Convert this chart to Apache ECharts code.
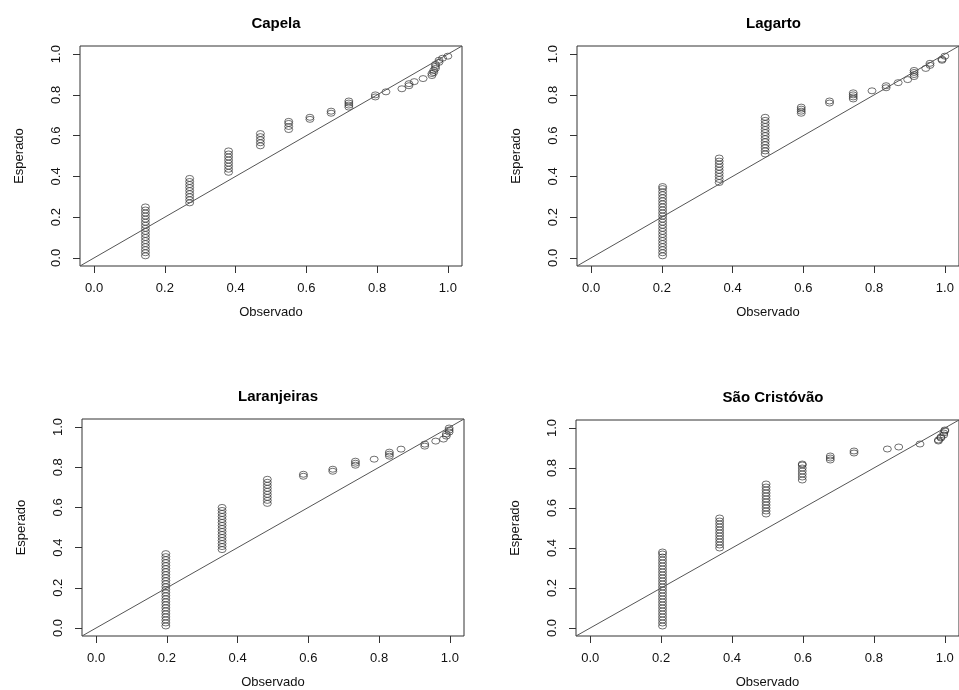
<html>
<head>
<meta charset="utf-8">
<title>Observado x Esperado</title>
<script src="https://cdn.jsdelivr.net/npm/echarts@6/dist/echarts.min.js"></script>
<style>
body{margin:0;background:#fff;overflow:hidden;}
#main{width:959px;height:690px;}
</style>
</head>
<body>
<div id="main"></div>
<script type="text/javascript">
  var myChart = echarts.init(document.getElementById('main'));

  var panelNames = ['Capela', 'Lagarto', 'Laranjeiras', 'São Cristóvão'];
  var tickValues = [0, 0.2, 0.4, 0.6, 0.8, 1.0];
  var axisLimits = [-0.04, 1.04];

  // cada coluna: valor observado (x) e os esperados (y) empilhados
  var capelaX = [0.145, 0.27, 0.38, 0.47, 0.55, 0.61, 0.67, 0.72, 0.795, 0.825, 0.87, 0.89, 0.905, 0.93, 0.955, 0.96, 0.965, 0.975, 0.985, 1.0];
  var capelaY = [
    [0.01, 0.025, 0.04, 0.055, 0.07, 0.085, 0.10, 0.115, 0.13, 0.145, 0.16, 0.175, 0.19, 0.205, 0.22, 0.235, 0.25],
    [0.27, 0.285, 0.30, 0.315, 0.33, 0.345, 0.36, 0.375, 0.39],
    [0.42, 0.435, 0.45, 0.465, 0.48, 0.495, 0.51, 0.525],
    [0.55, 0.565, 0.58, 0.595, 0.61],
    [0.63, 0.645, 0.66, 0.67],
    [0.68, 0.69],
    [0.71, 0.72],
    [0.74, 0.75, 0.76, 0.77],
    [0.79, 0.80],
    [0.815],
    [0.83],
    [0.845, 0.855],
    [0.865],
    [0.88],
    [0.895, 0.905],
    [0.91, 0.92],
    [0.93, 0.94, 0.95],
    [0.96, 0.97],
    [0.98],
    [0.99]
  ];

  var lagartoX = [0.202, 0.362, 0.492, 0.594, 0.674, 0.741, 0.794, 0.834, 0.868, 0.895, 0.913, 0.946, 0.958, 0.992, 1.0];
  var lagartoY = [
    [0.01, 0.025, 0.04, 0.055, 0.07, 0.085, 0.10, 0.115, 0.13, 0.145, 0.16, 0.175, 0.19, 0.205, 0.22, 0.235, 0.25, 0.265, 0.28, 0.295, 0.31, 0.325, 0.34, 0.35],
    [0.37, 0.385, 0.40, 0.415, 0.43, 0.445, 0.46, 0.475, 0.49],
    [0.51, 0.525, 0.54, 0.555, 0.57, 0.585, 0.60, 0.615, 0.63, 0.645, 0.66, 0.675, 0.69],
    [0.71, 0.72, 0.73, 0.74],
    [0.76, 0.77],
    [0.78, 0.79, 0.80, 0.81],
    [0.82],
    [0.835, 0.845],
    [0.86],
    [0.875],
    [0.89, 0.90, 0.91, 0.92],
    [0.93],
    [0.945, 0.955],
    [0.97, 0.975],
    [0.99]
  ];

  var laranjeirasX = [0.197, 0.356, 0.484, 0.586, 0.669, 0.733, 0.786, 0.829, 0.862, 0.929, 0.96, 0.982, 0.99, 0.998];
  var laranjeirasY = [
    [0.01, 0.025, 0.04, 0.055, 0.07, 0.085, 0.10, 0.115, 0.13, 0.145, 0.16, 0.175, 0.19, 0.205, 0.22, 0.235, 0.25, 0.265, 0.28, 0.295, 0.31, 0.325, 0.34, 0.355, 0.37],
    [0.39, 0.405, 0.42, 0.435, 0.45, 0.465, 0.48, 0.495, 0.51, 0.525, 0.54, 0.555, 0.57, 0.585, 0.60],
    [0.62, 0.635, 0.65, 0.665, 0.68, 0.695, 0.71, 0.725, 0.74],
    [0.755, 0.765],
    [0.78, 0.79],
    [0.81, 0.82, 0.83],
    [0.84],
    [0.855, 0.865, 0.875],
    [0.89],
    [0.905, 0.915],
    [0.93],
    [0.94],
    [0.955, 0.965],
    [0.975, 0.985, 0.995]
  ];

  var saoCristovaoX = [0.204, 0.365, 0.496, 0.598, 0.677, 0.744, 0.838, 0.87, 0.93, 0.982, 0.989, 0.997, 1.0];
  var saoCristovaoY = [
    [0.01, 0.025, 0.04, 0.055, 0.07, 0.085, 0.10, 0.115, 0.13, 0.145, 0.16, 0.175, 0.19, 0.205, 0.22, 0.235, 0.25, 0.265, 0.28, 0.295, 0.31, 0.325, 0.34, 0.355, 0.37, 0.38],
    [0.40, 0.415, 0.43, 0.445, 0.46, 0.475, 0.49, 0.505, 0.52, 0.535, 0.55],
    [0.57, 0.585, 0.60, 0.615, 0.63, 0.645, 0.66, 0.675, 0.69, 0.705, 0.72],
    [0.74, 0.755, 0.77, 0.785, 0.80, 0.815, 0.82],
    [0.84, 0.85, 0.86],
    [0.875, 0.885],
    [0.895],
    [0.905],
    [0.92],
    [0.935, 0.94],
    [0.95, 0.955],
    [0.965, 0.975],
    [0.985, 0.99]
  ];

  var panelX = [capelaX, lagartoX, laranjeirasX, saoCristovaoX];
  var panelY = [capelaY, lagartoY, laranjeirasY, saoCristovaoY];

  // posicao de cada painel (caixa do grafico)
  var boxes = [
    {left: 80, top: 46, width: 382, height: 220},
    {left: 577, top: 46, width: 383, height: 220},
    {left: 82, top: 419, width: 382, height: 219},
    {left: 576, top: 420, width: 384, height: 217}
  ];

  var fontFam = '"Liberation Sans", Arial, sans-serif';

  var toPoints = function(xs, ys) {
    var res = [];
    for (var i = 0; i < xs.length; i++) {
      for (var j = 0; j < ys[i].length; j++) {
        res.push([xs[i], ys[i][j]]);
      }
    }
    return res;
  };

  var grids = [], xAxes = [], yAxes = [], series = [], titles = [];
  boxes.forEach(function(b, i) {
    grids.push({
      left: b.left, top: b.top, width: b.width, height: b.height,
      show: true, borderColor: '#333', borderWidth: 1, backgroundColor: 'transparent'
    });
    titles.push({
      text: panelNames[i],
      left: b.left + b.width / 2,
      top: b.top - 35,
      textAlign: 'center',
      textStyle: {fontFamily: fontFam, fontSize: 15, fontWeight: 'bold', color: '#000'}
    });
    xAxes.push({
      gridIndex: i, type: 'value', min: axisLimits[0], max: axisLimits[1],
      name: 'Observado', nameLocation: 'middle', nameGap: 40,
      nameTextStyle: {fontFamily: fontFam, fontSize: 13, color: '#111'},
      axisLine: {show: false, onZero: false},
      splitLine: {show: false},
      axisTick: {show: true, inside: false, customValues: tickValues, length: 7, lineStyle: {color: '#333'}},
      axisLabel: {
        customValues: tickValues, margin: 16,
        fontFamily: fontFam, fontSize: 13, color: '#111',
        formatter: function(v) { return v.toFixed(1); }
      }
    });
    yAxes.push({
      gridIndex: i, type: 'value', min: axisLimits[0], max: axisLimits[1],
      name: 'Esperado', nameLocation: 'middle', nameGap: 54,
      nameTextStyle: {fontFamily: fontFam, fontSize: 13, color: '#111'},
      axisLine: {show: false, onZero: false},
      splitLine: {show: false},
      axisTick: {show: true, inside: false, customValues: tickValues, length: 7, lineStyle: {color: '#333'}},
      axisLabel: {
        customValues: tickValues, margin: 17, rotate: 90,
        fontFamily: fontFam, fontSize: 13, color: '#111',
        formatter: function(v) { return v.toFixed(1); }
      }
    });
    // reta y = x
    series.push({
      type: 'line', xAxisIndex: i, yAxisIndex: i,
      data: [[axisLimits[0], axisLimits[0]], [axisLimits[1], axisLimits[1]]],
      symbol: 'none', silent: true,
      lineStyle: {color: '#555', width: 1}
    });
    series.push({
      type: 'scatter', xAxisIndex: i, yAxisIndex: i,
      data: toPoints(panelX[i], panelY[i]),
      symbol: 'circle', symbolSize: [8, 6],
      itemStyle: {color: 'rgba(0,0,0,0)', borderColor: '#222', borderWidth: 0.8}
    });
  });

  var option = {
    animation: false,
    backgroundColor: '#fff',
    title: titles,
    grid: grids,
    xAxis: xAxes,
    yAxis: yAxes,
    series: series
  };

  myChart.setOption(option);
</script>
</body>
</html>
